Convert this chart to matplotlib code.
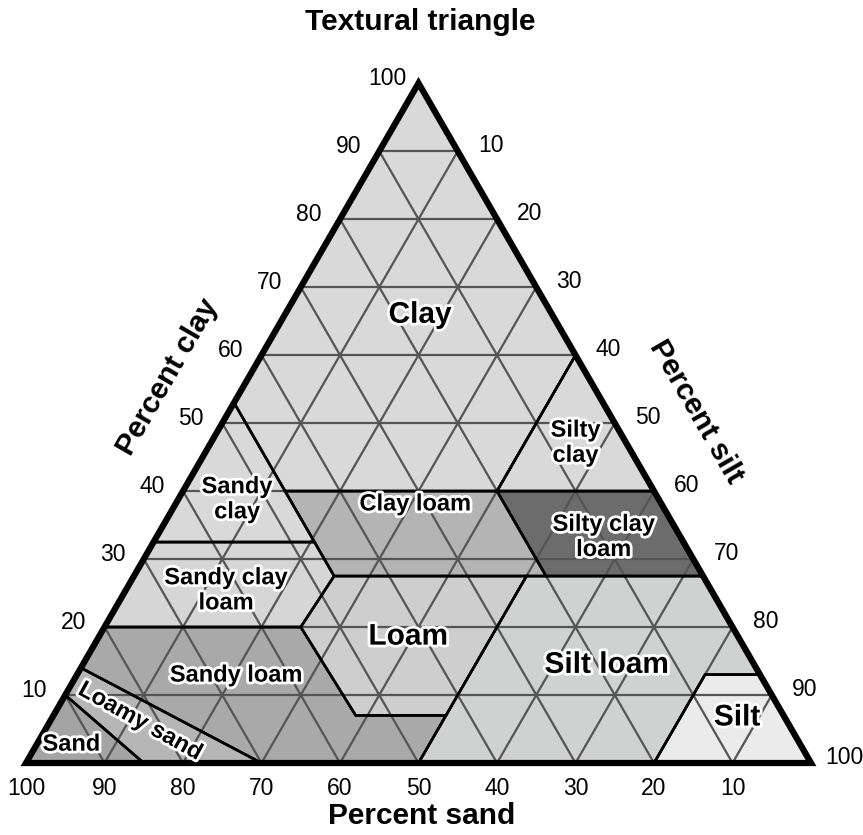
import numpy as np
import matplotlib.pyplot as plt
import matplotlib.patheffects as pe
from matplotlib.patches import Polygon

plt.rcParams['font.family'] = ['Liberation Sans', 'DejaVu Sans']

# texture classes, vertices as (percent sand, percent clay); silt = 100 - sand - clay
clay = [(47, 53), (0, 100), (0, 60), (20, 40), (47, 40)]
sandy_clay = [(67.5, 32.5), (47, 53), (47, 32.5)]
sandy_clay_loam = [(80, 20), (67.5, 32.5), (47, 32.5), (47, 27.5), (55, 20)]
clay_loam = [(47, 27.5), (47, 40), (20, 40), (20, 27.5)]
silty_clay = [(20, 40), (0, 60), (0, 40)]
silty_clay_loam = [(20, 27.5), (20, 40), (0, 40), (0, 27.5)]
loam = [(47, 27.5), (22.5, 27.5), (43, 7), (54.5, 7), (55, 20)]
sandy_loam = [(80, 20), (55, 20), (54.5, 7), (43, 7), (50, 0), (70, 0), (86, 14)]
loamy_sand = [(86, 14), (70, 0), (85, 0), (90, 10)]
sand = [(90, 10), (85, 0), (100, 0)]
silt_loam = [(50, 0), (43, 7), (22.5, 27.5), (0, 27.5), (0, 13), (7, 13), (20, 0)]
silt = [(20, 0), (7, 13), (0, 13), (0, 0)]

regions = [clay, sandy_clay, sandy_clay_loam, clay_loam, silty_clay, silty_clay_loam,
           loam, sandy_loam, loamy_sand, sand, silt_loam, silt]
fills = ['#d9d9d9', '#d9d9d9', '#d6d6d6', '#b4b4b4', '#d9d9d9', '#6c6c6c',
         '#cecece', '#a9a9a9', '#b6b6b6', '#a4a4a4', '#d0d1d1', '#ebebeb']

names = ['Clay', 'Sandy\nclay', 'Sandy clay\nloam', 'Clay loam', 'Silty\nclay',
         'Silty clay\nloam', 'Loam', 'Sandy loam', 'Loamy sand', 'Sand', 'Silt loam', 'Silt']
big = ['Clay', 'Loam', 'Silt loam', 'Silt']

ticks = [10, 20, 30, 40, 50, 60, 70, 80, 90, 100]


def tern(s, c):
    t = 100 - s - c
    return t + c / 2, c * np.sqrt(3) / 2


fig = plt.figure(figsize=(8.63, 8.35), dpi=100)
ax = fig.add_axes([0, 0, 1, 1])
ax.set_xlim(-3.31, 106.62)
ax.set_ylim(-9.17, 97.2)
ax.axis('off')

for poly, col in zip(regions, fills):
    pts = [tern(s, c) for s, c in poly]
    ax.add_patch(Polygon(pts, closed=True, facecolor=col, edgecolor='none', zorder=1))

# 10 % grid
for v in range(10, 100, 10):
    lines = [(tern(100 - v, v), tern(0, v)),
             (tern(v, 0), tern(v, 100 - v)),
             (tern(100 - v, 0), tern(0, 100 - v))]
    for a, b in lines:
        ax.plot([a[0], b[0]], [a[1], b[1]], color='#555555', lw=1.6, zorder=2)

for poly in regions:
    pts = [tern(s, c) for s, c in poly]
    ax.add_patch(Polygon(pts, closed=True, facecolor='none', edgecolor='black',
                         lw=1.9, joinstyle='miter', zorder=3))

outline = [tern(100, 0), tern(0, 0), tern(0, 100)]
ax.add_patch(Polygon(outline, closed=True, facecolor='none', edgecolor='black',
                     lw=4.5, joinstyle='miter', zorder=4))

# class labels
label_pos = {'Clay': (50.2, 57.1), 'Sandy\nclay': (26.9, 33.6), 'Sandy clay\nloam': (25.5, 22.0),
             'Clay loam': (49.6, 33.0), 'Silty\nclay': (70.0, 40.8), 'Silty clay\nloam': (73.6, 28.8),
             'Loam': (48.7, 16.1), 'Sandy loam': (26.8, 11.2), 'Loamy sand': (14.6, 5.3),
             'Sand': (5.8, 2.4), 'Silt loam': (74.0, 12.5), 'Silt': (90.6, 5.8)}
stroke = [pe.withStroke(linewidth=4, foreground='white')]
for n in names:
    x, y = label_pos[n]
    ax.text(x, y, n, ha='center', va='center', fontsize=21.5 if n in big else 17,
            fontweight='bold', linespacing=1.12, rotation=-29 if n == 'Loamy sand' else 0,
            path_effects=stroke, zorder=5)

# tick labels
for v in ticks:
    x, y = tern(v, 0)
    ax.text(x, y - 3.2, str(v), ha='center', va='center', fontsize=16.5)
    x, y = tern(100 - v, v)
    ax.text(x - 3.95, y + 0.55, str(v), ha='center', va='center', fontsize=16.5)
    x, y = tern(0, 100 - v)
    ax.text(x + 4.2, y + 0.7, str(v), ha='center', va='center', fontsize=16.5)

ax.text(50.2, 94.4, 'Textural triangle', ha='center', va='center', fontsize=21.5, fontweight='bold')
ax.text(50.4, -6.7, 'Percent sand', ha='center', va='center', fontsize=21.5, fontweight='bold')
ax.text(18.0, 49.2, 'Percent clay', ha='center', va='center', fontsize=21.5, fontweight='bold', rotation=60)
ax.text(85.4, 44.8, 'Percent silt', ha='center', va='center', fontsize=21.5, fontweight='bold', rotation=-60)

plt.savefig('out.png', dpi=100)
plt.close()
